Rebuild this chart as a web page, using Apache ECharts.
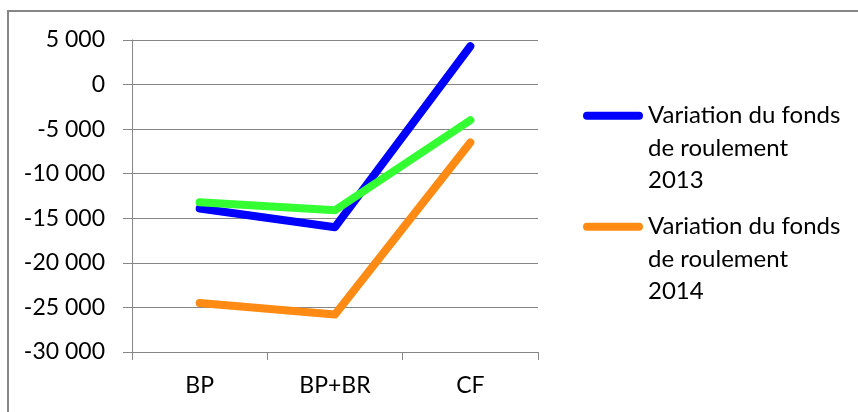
<!DOCTYPE html>
<html>
<head>
<meta charset="utf-8">
<script src="https://cdn.jsdelivr.net/npm/echarts@6/dist/echarts.min.js"></script>
<style>
  html, body { margin: 0; padding: 0; background: #fff; }
  #chart { width: 858px; height: 412px; }
</style>
</head>
<body>
<div id="chart"></div>
<script>
// Categories and values
const categories = ['BP', 'BP+BR', 'CF'];
const variation2013 = [-13900, -16000, 4300];
const variation2014 = [-24500, -25800, -6500];
const variationOther = [-13200, -14100, -4000];

const name2013 = 'Variation du fonds de roulement 2013';
const name2014 = 'Variation du fonds de roulement 2014';

const FONT = 'Lato';
const AXIS_GRAY = '#868686';

// thousands separated by a space: -30 000
function fmt(v) {
  return String(v).replace(/\B(?=(\d{3})+(?!\d))/g, ' ');
}

// Legend icon: a rounded bar at the top of a taller, invisible box so the
// bar lines up with the first line of the three-line legend label.
const LH = 32.5;
const ICON_H = 8 + 2 * LH;
const legendIcon = 'path://M4,0 L56,0 A4,4 0 0 1 56,8 L4,8 A4,4 0 0 1 4,0 Z M0,' + ICON_H;

const chart = echarts.init(document.getElementById('chart'), null, { renderer: 'canvas' });

chart.setOption({
  animation: false,
  backgroundColor: '#ffffff',
  textStyle: { fontFamily: FONT },
  graphic: [{
    type: 'rect',
    shape: { x: 8, y: 11, width: 900, height: 450 },
    style: { fill: 'none', stroke: AXIS_GRAY, lineWidth: 2 },
    silent: true
  }],
  grid: { left: 132, right: 320, top: 40, bottom: 60 },
  legend: {
    orient: 'vertical',
    left: 583,
    top: 99.5,
    padding: 0,
    itemGap: 13.5,
    itemWidth: 60,
    itemHeight: ICON_H,
    icon: legendIcon,
    data: [name2013, name2014],
    formatter: function (n) {
      return n.replace(' de ', '\nde ').replace(' 20', '\n20');
    },
    textStyle: { fontFamily: FONT, fontSize: 24, lineHeight: LH, color: '#000' }
  },
  xAxis: {
    type: 'category',
    data: categories,
    boundaryGap: true,
    axisLine: { onZero: false, lineStyle: { color: AXIS_GRAY, width: 1 } },
    axisTick: { show: true, length: 8, alignWithLabel: false, lineStyle: { color: AXIS_GRAY } },
    axisLabel: { color: '#000', fontFamily: FONT, fontSize: 23, margin: 22 },
    splitLine: { show: false }
  },
  yAxis: {
    type: 'value',
    min: -30000,
    max: 5000,
    interval: 5000,
    axisLine: { show: true, lineStyle: { color: AXIS_GRAY, width: 1 } },
    axisTick: { show: true, length: 9, lineStyle: { color: AXIS_GRAY } },
    axisLabel: { color: '#000', fontFamily: FONT, fontSize: 23, margin: 27, formatter: fmt },
    splitLine: { show: true, lineStyle: { color: AXIS_GRAY, width: 1 } }
  },
  series: [
    {
      name: name2013,
      type: 'line',
      data: variation2013,
      color: '#0000ff',
      showSymbol: false,
      lineStyle: { width: 8, cap: 'round', join: 'round' }
    },
    {
      name: name2014,
      type: 'line',
      data: variation2014,
      color: '#ff8a14',
      showSymbol: false,
      lineStyle: { width: 8, cap: 'round', join: 'round' }
    },
    {
      name: 'Série 3',
      type: 'line',
      data: variationOther,
      color: '#33ff33',
      showSymbol: false,
      lineStyle: { width: 8, cap: 'round', join: 'round' }
    }
  ]
});
</script>
</body>
</html>
